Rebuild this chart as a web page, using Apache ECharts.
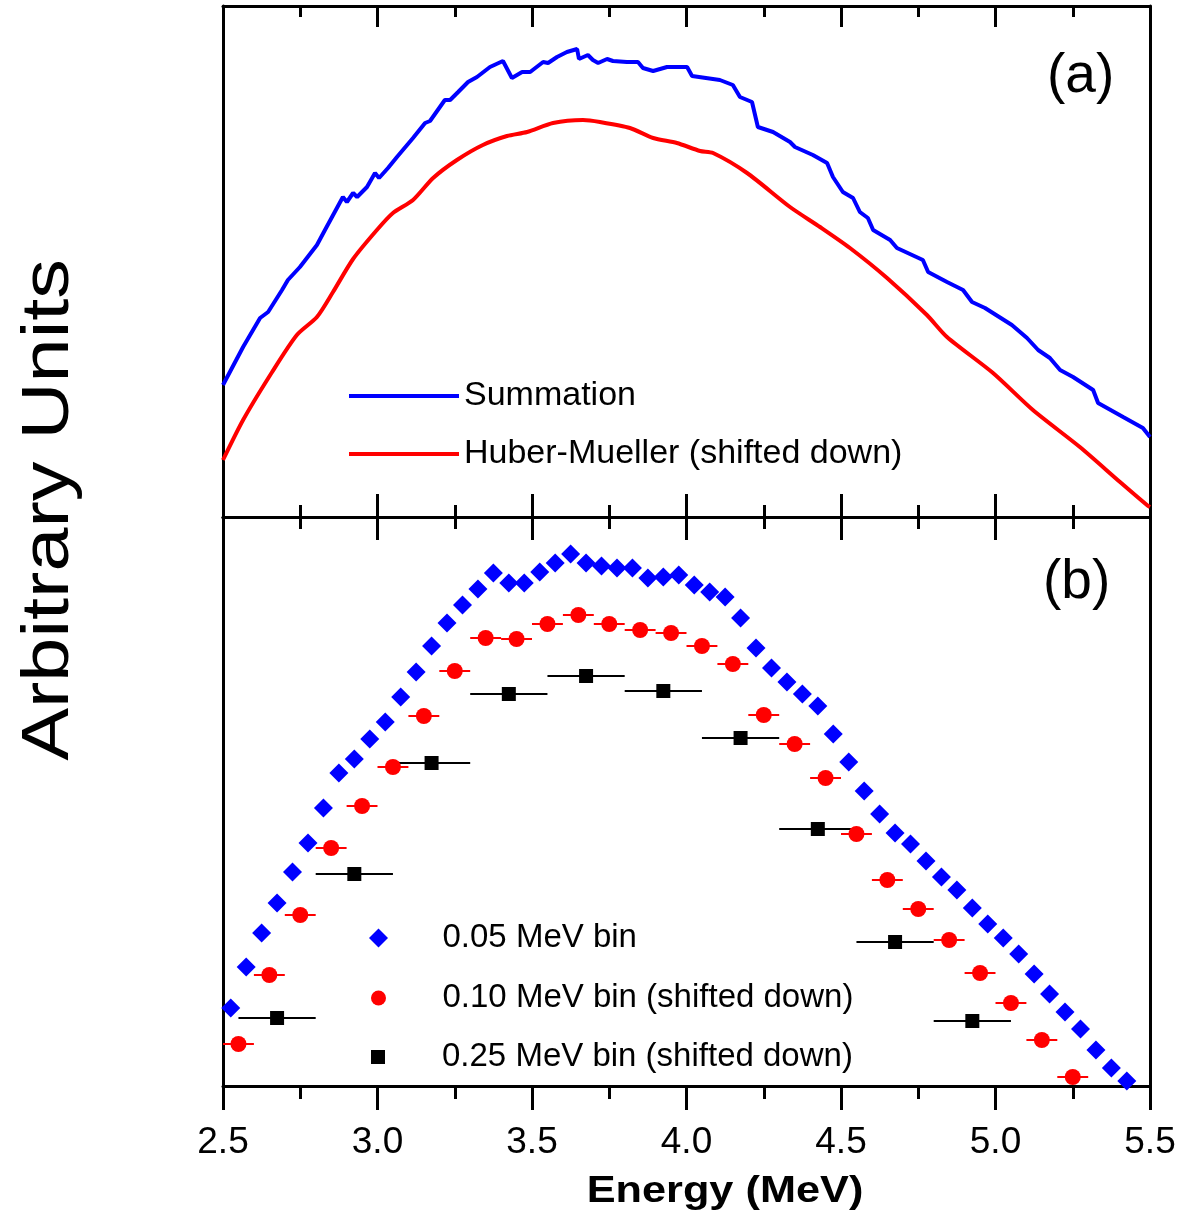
<!DOCTYPE html>
<html>
<head>
<meta charset="utf-8">
<script src="https://cdn.jsdelivr.net/npm/echarts@6/dist/echarts.min.js"></script>
<style>
html,body{margin:0;padding:0;background:#fff;}
#chart{width:1182px;height:1217px;}
</style>
</head>
<body>
<div id="chart"></div>
<script>
// ---------- Panel (a): spectra (arbitrary units) ----------
var summationEnergy = [2.500,2.565,2.620,2.646,2.691,2.710,2.749,2.804,2.830,2.888,2.901,2.921,2.934,2.966,2.992,3.005,3.034,3.063,3.115,3.154,3.170,3.218,3.235,3.261,3.293,3.322,3.364,3.406,3.435,3.468,3.494,3.536,3.552,3.581,3.613,3.646,3.652,3.681,3.697,3.714,3.743,3.762,3.807,3.843,3.859,3.892,3.937,4.002,4.018,4.108,4.150,4.173,4.212,4.231,4.280,4.335,4.351,4.409,4.455,4.474,4.506,4.539,4.561,4.587,4.604,4.659,4.681,4.765,4.782,4.843,4.895,4.924,4.966,5.053,5.102,5.138,5.176,5.209,5.251,5.316,5.332,5.413,5.477,5.500];
var summationValue = [13.2,17.0,19.9,20.5,22.7,23.7,25.0,27.2,28.7,32.0,31.5,32.4,32.0,33.0,34.4,33.9,34.9,36.0,37.9,39.4,39.6,41.7,41.7,42.5,43.5,44.0,45.0,45.6,43.9,44.5,44.5,45.5,45.4,46.0,46.5,46.8,45.8,46.2,45.7,45.4,45.8,45.6,45.5,45.5,44.9,44.6,45.0,45.0,44.1,43.7,43.2,42.0,41.5,39.0,38.5,37.5,37.0,36.2,35.4,34.0,32.5,31.9,30.5,29.9,28.7,27.7,26.9,25.7,24.5,23.5,22.7,21.5,20.9,19.2,17.9,16.7,15.9,14.7,14.0,12.7,11.4,10.0,8.9,8.0];

var huberEnergy = [2.500,2.565,2.659,2.739,2.804,2.856,2.921,2.998,3.050,3.115,3.180,3.257,3.341,3.419,3.484,3.568,3.665,3.720,3.817,3.892,3.969,4.044,4.086,4.196,4.335,4.432,4.529,4.649,4.778,4.843,4.992,5.121,5.273,5.403,5.490,5.500];
var huberValue = [5.7,9.7,14.5,18.2,20.0,22.5,25.8,28.7,30.4,31.7,33.9,35.7,37.2,38.1,38.5,39.4,39.7,39.5,38.9,37.9,37.4,36.6,36.4,34.4,31.0,29.0,26.9,23.9,20.2,18.0,14.4,10.7,7.0,3.5,1.2,1.0];

// ---------- Panel (b): binned spectra ----------
var bin005Energy = [2.475,2.525,2.575,2.625,2.675,2.725,2.775,2.825,2.875,2.925,2.975,3.025,3.075,3.125,3.175,3.225,3.275,3.325,3.375,3.425,3.475,3.525,3.575,3.625,3.675,3.725,3.775,3.825,3.875,3.925,3.975,4.025,4.075,4.125,4.175,4.225,4.275,4.325,4.375,4.425,4.475,4.525,4.575,4.625,4.675,4.725,4.775,4.825,4.875,4.925,4.975,5.025,5.075,5.125,5.175,5.225,5.275,5.325,5.375,5.425,5.475];
var bin005Value = [4.2,7.8,11.9,15.3,18.3,21.4,24.3,27.8,31.3,32.7,34.7,36.4,38.9,41.4,44.0,46.3,48.1,49.7,51.3,50.3,50.3,51.4,52.3,53.2,52.3,52.0,51.8,51.8,50.8,50.9,51.1,50.1,49.4,48.9,46.8,43.8,41.8,40.4,39.2,38.0,35.2,32.4,29.5,27.2,25.3,24.2,22.5,20.9,19.6,17.8,16.2,14.8,13.2,11.2,9.2,7.4,5.7,3.6,1.8,0.5,-0.3];

var bin010Energy = [2.55,2.65,2.75,2.85,2.95,3.05,3.15,3.25,3.35,3.45,3.55,3.65,3.75,3.85,3.95,4.05,4.15,4.25,4.35,4.45,4.55,4.65,4.75,4.85,4.95,5.05,5.15,5.25];
var bin010Value = [4.2,11.1,17.1,23.8,28.0,31.9,37.0,41.5,44.8,44.7,46.2,47.1,46.2,45.6,45.3,44.0,42.2,37.1,34.2,30.8,25.2,20.6,17.7,14.6,11.3,8.3,4.6,0.9];
var bin010HalfWidth = 0.05;

var bin025Energy = [2.675,2.925,3.175,3.425,3.675,3.925,4.175,4.425,4.675,4.925];
var bin025Value = [6.8,21.2,32.3,39.2,41.0,39.5,34.8,25.7,14.4,6.5];
var bin025HalfWidth = 0.125;

var xTickMin = 2.5, xTickMax = 5.5, xTickStep = 0.5;

var seriesNames = ['Summation', 'Huber-Mueller (shifted down)', '0.05 MeV bin', '0.10 MeV bin (shifted down)', '0.25 MeV bin (shifted down)'];

// ---------- build ----------
function pairs(xs, ys) { return xs.map(function (x, i) { return [x, ys[i]]; }); }
function errRows(xs, ys, hw) { return xs.map(function (x, i) { return [x, ys[i], x - hw, x + hw]; }); }

var FONT = '"Liberation Sans", Arial, Helvetica, sans-serif';
var ICON_DIAMOND = 'path://M10,0L20,10L10,20L0,10Z';
var ICON_CIRCLE = 'path://M20,10A10,10,0,1,1,0,10A10,10,0,1,1,20,10Z';
var ICON_SQUARE = 'path://M0,0H20V20H0Z';

function xAxisDef(gridIndex, position, inside, len, minorLen, showLabel) {
  return {
    type: 'value', gridIndex: gridIndex, position: position,
    min: xTickMin, max: xTickMax, interval: xTickStep,
    axisLine: { show: true, onZero: false, lineStyle: { color: '#000', width: 3 } },
    axisTick: { show: true, inside: inside, length: len, lineStyle: { color: '#000', width: 3 } },
    minorTick: { show: true, splitNumber: 2, length: minorLen, lineStyle: { color: '#000', width: 3 } },
    splitLine: { show: false }, minorSplitLine: { show: false },
    axisLabel: showLabel ? {
      show: true, margin: 38, fontSize: 37, color: '#000', fontFamily: FONT,
      showMinLabel: true, showMaxLabel: true,
      formatter: function (v) { return v.toFixed(1); }
    } : { show: false }
  };
}
function yAxisDef(gridIndex, position, max) {
  return {
    type: 'value', gridIndex: gridIndex, position: position, min: 0, max: max,
    axisLine: { show: true, onZero: false, lineStyle: { color: '#000', width: 3 } },
    axisTick: { show: false }, axisLabel: { show: false }, splitLine: { show: false }
  };
}

function errorRender(color) {
  return function (params, api) {
    var y = api.value(1);
    var p1 = api.coord([api.value(2), y]);
    var p2 = api.coord([api.value(3), y]);
    return {
      type: 'line',
      shape: { x1: p1[0], y1: p1[1], x2: p2[0], y2: p2[1] },
      style: { stroke: color, lineWidth: 2 }
    };
  };
}

function markerLegend(name, icon, size, left, top) {
  return {
    data: [{ name: name, icon: icon }], orient: 'vertical', left: left, top: top, padding: 0,
    itemWidth: 118, itemHeight: size, symbolKeepAspect: true,
    textStyle: { fontSize: 33, lineHeight: 34, color: '#000', fontFamily: FONT }, selectedMode: false
  };
}

var chart = echarts.init(document.getElementById('chart'), null, { renderer: 'canvas' });
var option = {
  animation: false,
  backgroundColor: '#fff',
  grid: [
    { left: 223, right: 32, top: 6, height: 511 },
    { left: 223, right: 32, top: 517, height: 569 }
  ],
  xAxis: [
    xAxisDef(0, 'bottom', true, 23, 12, false),
    xAxisDef(0, 'top', true, 21, 11, false),
    xAxisDef(1, 'bottom', false, 24, 13, true),
    xAxisDef(1, 'top', true, 23, 12, false)
  ],
  yAxis: [
    yAxisDef(0, 'left', 51.1),
    yAxisDef(0, 'right', 51.1),
    yAxisDef(1, 'left', 56.9),
    yAxisDef(1, 'right', 56.9)
  ],
  legend: [
    {
      data: [{ name: seriesNames[0], icon: 'rect' }, { name: seriesNames[1], icon: 'rect' }],
      orient: 'vertical', left: 349, top: 379,
      padding: 0, itemGap: 24, itemWidth: 110, itemHeight: 4,
      textStyle: { fontSize: 34, lineHeight: 34, color: '#000', fontFamily: FONT },
      selectedMode: false
    },
    markerLegend(seriesNames[2], ICON_DIAMOND, 19, 369, 921),
    markerLegend(seriesNames[3], ICON_CIRCLE, 15, 371, 981),
    markerLegend(seriesNames[4], ICON_SQUARE, 14, 371, 1040)
  ],
  series: [
    {
      name: seriesNames[1], type: 'line', xAxisIndex: 0, yAxisIndex: 0,
      data: pairs(huberEnergy, huberValue), symbol: 'none', smooth: 0.25,
      lineStyle: { color: '#ff0000', width: 4 }, itemStyle: { color: '#ff0000' }
    },
    {
      name: seriesNames[0], type: 'line', xAxisIndex: 0, yAxisIndex: 0,
      data: pairs(summationEnergy, summationValue), symbol: 'none',
      lineStyle: { color: '#0000ff', width: 4 }, itemStyle: { color: '#0000ff' }
    },
    {
      name: 'err025', type: 'custom', xAxisIndex: 2, yAxisIndex: 2,
      data: errRows(bin025Energy, bin025Value, bin025HalfWidth),
      encode: { x: [0, 2, 3], y: 1 }, renderItem: errorRender('#000000'), z: 2
    },
    {
      name: seriesNames[4], type: 'scatter', xAxisIndex: 2, yAxisIndex: 2,
      data: pairs(bin025Energy, bin025Value), symbol: 'rect', symbolSize: 14,
      itemStyle: { color: '#000000', opacity: 1 }, z: 3
    },
    {
      name: 'err010', type: 'custom', xAxisIndex: 2, yAxisIndex: 2,
      data: errRows(bin010Energy, bin010Value, bin010HalfWidth),
      encode: { x: [0, 2, 3], y: 1 }, renderItem: errorRender('#ff0000'), z: 4
    },
    {
      name: seriesNames[3], type: 'scatter', xAxisIndex: 2, yAxisIndex: 2,
      data: pairs(bin010Energy, bin010Value), symbol: 'circle', symbolSize: 16,
      itemStyle: { color: '#ff0000', opacity: 1 }, z: 5
    },
    {
      name: seriesNames[2], type: 'scatter', xAxisIndex: 2, yAxisIndex: 2,
      data: pairs(bin005Energy, bin005Value), symbol: 'diamond', symbolSize: 19,
      itemStyle: { color: '#0000ff', opacity: 1 }, z: 6, clip: true
    }
  ],
  graphic: [
    {
      type: 'text', x: 50, y: 510, rotation: Math.PI / 2, scaleX: 1.2,
      style: { text: 'Arbitrary Units', fontSize: 66, fontFamily: FONT, fill: '#000',
               textAlign: 'center', textVerticalAlign: 'middle' }
    },
    {
      type: 'text', x: 725, y: 1192, scaleX: 1.17,
      style: { text: 'Energy (MeV)', fontSize: 37, fontWeight: 'bold', fontFamily: FONT, fill: '#000',
               textAlign: 'center', textVerticalAlign: 'middle' }
    },
    {
      type: 'text', x: 1047, y: 77,
      style: { text: '(a)', fontSize: 55, fontFamily: FONT, fill: '#000', textAlign: 'left', textVerticalAlign: 'middle' }
    },
    {
      type: 'text', x: 1043, y: 583,
      style: { text: '(b)', fontSize: 55, fontFamily: FONT, fill: '#000', textAlign: 'left', textVerticalAlign: 'middle' }
    }
  ]
};
chart.setOption(option);
</script>
</body>
</html>
